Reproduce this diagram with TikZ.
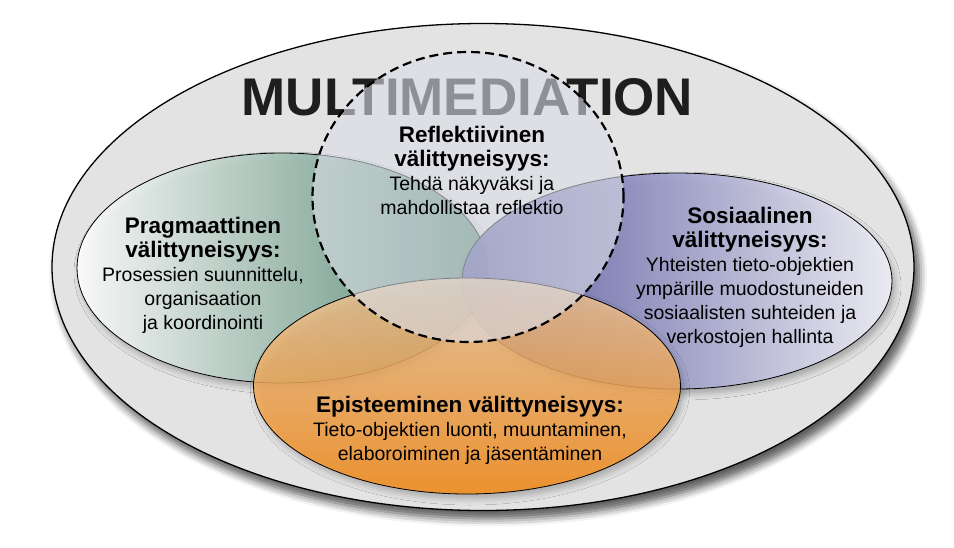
\documentclass[tikz,border=0pt]{standalone}
\usepackage{fontspec}
\setmainfont{Liberation Sans}
\usetikzlibrary{shapes.geometric,shadows.blur}
\definecolor{outergray}{RGB}{227,227,227}
\definecolor{ringgray}{RGB}{188,188,188}
\definecolor{pragmagreen}{RGB}{74,130,106}
\definecolor{pragmamid}{RGB}{140,184,164}
\definecolor{sosiaalipurple}{RGB}{80,80,158}
\definecolor{sosiaalilight}{RGB}{242,242,250}
\definecolor{episteorange}{RGB}{250,140,20}
\definecolor{epistelight}{RGB}{240,200,156}
\definecolor{reflgray}{RGB}{218,221,230}
\definecolor{titlegray}{RGB}{30,30,30}
\pgfdeclareradialshading{outerring}{\pgfpoint{0bp}{0bp}}{color(0bp)=(outergray); color(44bp)=(outergray); color(50bp)=(ringgray)}
\newcommand{\hdline}[1]{{\fontsize{22.5}{24}\selectfont\bfseries #1}}
\begin{document}
\begin{tikzpicture}[x=1pt,y=-1pt,
    ell/.style={ellipse, draw, inner sep=0pt, line width=0.8pt,
        blur shadow={shadow xshift=3pt, shadow yshift=-5pt, shadow blur radius=6pt, shadow opacity=30}},
    lbl/.style={align=center, inner sep=0pt, font=\fontsize{19.5}{24}\selectfont}]
    \useasboundingbox (0,0) rectangle (954,547);
    \node[ell, line width=1.3pt, minimum width=862pt, minimum height=487pt, shading=outerring,
        blur shadow={shadow xshift=5pt, shadow yshift=-8pt, shadow blur radius=8pt, shadow opacity=40}] (multimed) at (483,267) {};
    \node[ell, minimum width=410pt, minimum height=230pt, left color=white, middle color=pragmamid, right color=pragmagreen, fill opacity=0.92] (pragma) at (282,268) {};
    \node[ell, minimum width=430pt, minimum height=216pt, left color=sosiaalipurple, right color=sosiaalilight, fill opacity=0.9] (sosiaali) at (677,281) {};
    \node[ell, minimum width=427pt, minimum height=216pt, top color=epistelight, bottom color=episteorange, fill opacity=0.82] (episte) at (467,386) {};
    \node[anchor=base, inner sep=0pt, text=titlegray, font=\fontsize{53}{53}\selectfont\bfseries] (titel) at (467.5,115) {MULTIMEDIATION};
    \node[ellipse, draw, inner sep=0pt, line width=2.2pt, dash pattern=on 9pt off 5pt, fill=reflgray, fill opacity=0.6,
        minimum width=311pt, minimum height=290pt] (reflekt) at (468,197) {};
    \node[lbl] (reflektText) at (472,170) {\hdline{Reflektiivinen}\\\hdline{välittyneisyys:}\\Tehdä näkyväksi ja\\mahdollistaa reflektio};
    \node[lbl] (pragmaText) at (203,275) {\hdline{Pragmaattinen}\\\hdline{välittyneisyys:}\\Prosessien suunnittelu,\\organisaation\\ja koordinointi};
    \node[lbl] (sosiaaliText) at (750,277) {\hdline{Sosiaalinen}\\\hdline{välittyneisyys:}\\Yhteisten tieto-objektien\\ympärille muodostuneiden\\sosiaalisten suhteiden ja\\verkostojen hallinta};
    \node[lbl] (episteText) at (470,430) {\hdline{Episteeminen välittyneisyys:}\\Tieto-objektien luonti, muuntaminen,\\elaboroiminen ja jäsentäminen};
\end{tikzpicture}
\end{document}
